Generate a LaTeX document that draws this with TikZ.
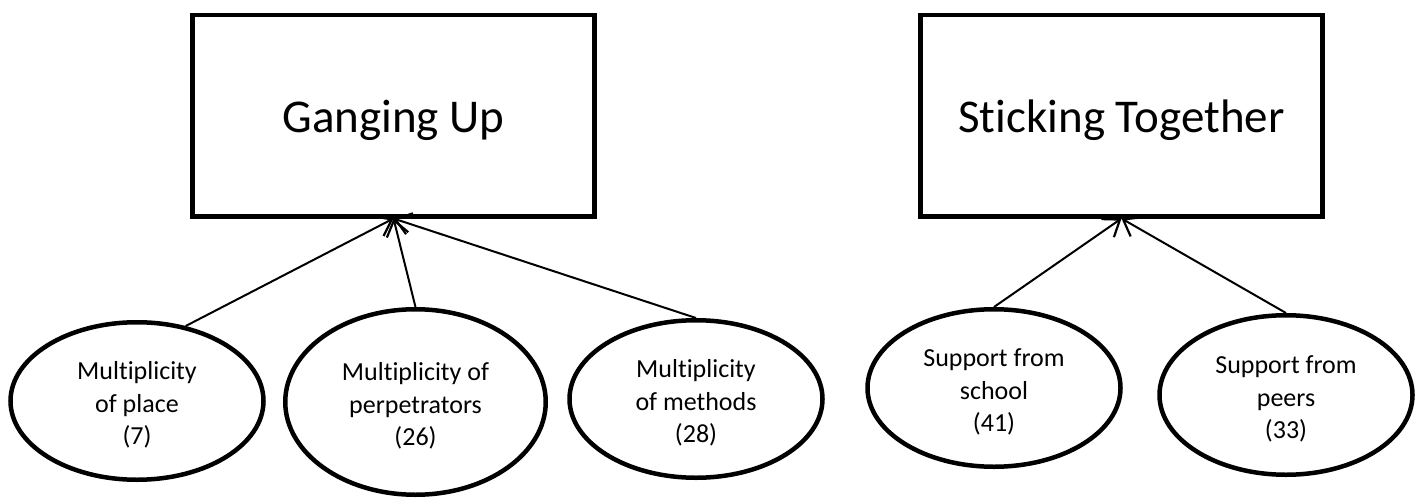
\documentclass[tikz,border=0pt]{standalone}
\usepackage{fontspec}
\setmainfont{Carlito}[Ligatures=CommonOff]
\usetikzlibrary{shapes.geometric,arrows.meta}
\newcommand\tup{\rule{0pt}{26pt}}
\begin{document}
\begin{tikzpicture}[x=1pt,y=1pt,
  concept/.style={draw, line width=4.5pt, rectangle, minimum width=402pt, minimum height=201pt,
    inner sep=0pt, font=\fontsize{47}{56}\selectfont, text height=36pt, text depth=1.5pt},
  theme/.style={draw, line width=4.5pt, ellipse, inner sep=0pt, align=center,
    font=\fontsize{26}{32.5}\selectfont},
  small/.style={minimum width=253pt, minimum height=157.5pt},
  link/.style={line width=2pt, -{Straight Barb[length=15pt,width=22pt,line width=2.2pt]}}
]
\useasboundingbox (0,0) rectangle (1421,499);
\node[concept] (gu) at (393.5,383.25) {Ganging Up};
\node[concept] (st) at (1121.5,383.25) {Sticking Together};

\node[theme, small] (place) at (137,98) {\tup Multiplicity\\of place\\(7)};
\node[theme, minimum width=260.5pt, minimum height=185.5pt] (perp) at (415.5,97) {\tup Multiplicity of\\perpetrators\\(26)};
\node[theme, small] (meth) at (696,100) {\tup Multiplicity\\of methods\\(28)};
\node[theme, small] (school) at (994,111) {\tup Support from\\school\\(41)};
\node[theme, small, minimum height=159.5pt] (peers) at (1286,104) {\tup Support from\\peers\\(33)};

\draw[link] (place.57) -- (gu.south);
\draw[link] (perp.north) -- (gu.south);
\draw[link] (meth.north) -- (gu.south);
\draw[link] (school.north) -- (st.south);
\draw[link] (peers.north) -- (st.south);
\end{tikzpicture}
\end{document}
